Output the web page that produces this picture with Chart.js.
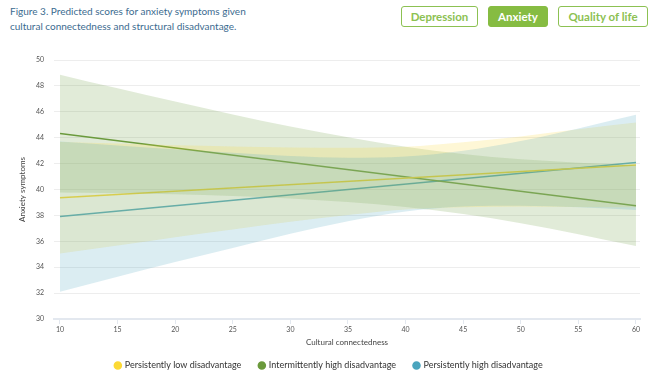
<!DOCTYPE html>
<html>
<head>
<meta charset="utf-8">
<script src="https://cdn.jsdelivr.net/npm/chart.js@4"></script>
<style>
	body { margin: 0; background: #fff; }
	#wrap { position: relative; width: 659px; height: 388px; overflow: hidden; }
	#chart { position: absolute; left: 0; top: 0; }
	.title {
		position: absolute; left: 10px; top: 4px;
		font-family: Lato, sans-serif; font-size: 10px; line-height: 15px;
		color: #3b6b8f;
	}
	.btn {
		position: absolute; top: 6px; height: 21px; box-sizing: border-box;
		border: 1.5px solid #8cc152; border-radius: 3px;
		font-family: Lato, sans-serif; font-weight: bold; font-size: 11.5px;
		color: #8cc152; background: #fff;
		display: flex; align-items: center; justify-content: center;
	}
	.btn.active { background: #86bc42; color: #fff; border-color: #86bc42; }
</style>
</head>
<body>
<div id="wrap">
	<div class="title">Figure 3. Predicted scores for anxiety symptoms given<br>cultural connectedness and structural disadvantage.</div>
	<div class="btn" style="left:401px;width:77px">Depression</div>
	<div class="btn active" style="left:488px;width:60px">Anxiety</div>
	<div class="btn" style="left:558px;width:90px">Quality of life</div>
	<canvas id="chart" width="659" height="388"></canvas>
</div>
<script>
// Series names
const seriesNames = [
	"Persistently low disadvantage",
	"Intermittently high disadvantage",
	"Persistently high disadvantage",
];

// Cultural connectedness values where the bands were read
const bandX = [10, 15, 20, 25, 30, 35, 40, 45, 50, 55, 60];

// Confidence bands (upper / lower)
const lowUpper = [43.67, 43.55, 43.42, 43.33, 43.25, 43.22, 43.3, 43.65, 44.1, 44.65, 45.17];
const lowLower = [35.05, 35.67, 36.32, 36.91, 37.51, 38.04, 38.46, 38.63, 38.68, 38.65, 38.63];
const interUpper = [48.87, 47.81, 46.79, 45.8, 44.87, 44.03, 43.31, 42.74, 42.33, 42.07, 41.87];
const interLower = [39.77, 39.71, 39.63, 39.5, 39.31, 39.03, 38.65, 38.1, 37.39, 36.55, 35.63];
const highUpper = [43.71, 43.4, 43.1, 42.83, 42.58, 42.45, 42.54, 42.99, 43.75, 44.72, 45.77];
const highLower = [32.11, 33.26, 34.4, 35.49, 36.58, 37.55, 38.3, 38.69, 38.75, 38.62, 38.41];

// Predicted lines (end points)
const lineX = [10, 60];
const lowLine = [39.36, 41.9];
const interLine = [44.32, 38.75];
const highLine = [37.91, 42.09];

// Axis ticks
const xTicks = [10, 15, 20, 25, 30, 35, 40, 45, 50, 55, 60];
const yTicks = [30, 32, 34, 36, 38, 40, 42, 44, 46, 48, 50];

const colors = {
	low: "#fcd934",
	inter: "#6b9a3c",
	high: "#4ba5be",
};
const bandColors = {
	low: "rgba(252, 217, 52, 0.2)",
	inter: "rgba(107, 154, 60, 0.2)",
	high: "rgba(75, 165, 190, 0.2)",
};

function points(xs, ys) {
	return xs.map((x, i) => ({ x: x, y: ys[i] }));
}

function bandPair(lower, upper, color) {
	const base = {
		borderWidth: 0,
		pointRadius: 0,
		pointHoverRadius: 0,
		cubicInterpolationMode: "monotone",
		backgroundColor: color,
		isBand: true,
	};
	return [
		Object.assign({}, base, { data: points(bandX, lower), fill: false }),
		Object.assign({}, base, { data: points(bandX, upper), fill: "-1" }),
	];
}

function lineSet(label, ys, color) {
	return {
		label: label,
		data: points(lineX, ys),
		borderColor: color,
		backgroundColor: color,
		borderWidth: 1.5,
		pointRadius: 0,
		fill: false,
	};
}

// bands first in the list so they are painted over the lines
const datasets = [
	...bandPair(highLower, highUpper, bandColors.high),
	...bandPair(lowLower, lowUpper, bandColors.low),
	...bandPair(interLower, interUpper, bandColors.inter),
	lineSet(seriesNames[0], lowLine, colors.low),
	lineSet(seriesNames[1], interLine, colors.inter),
	lineSet(seriesNames[2], highLine, colors.high),
];

const tickFont = { family: "Lato, sans-serif", size: 7 };

new Chart(document.getElementById("chart"), {
	type: "line",
	data: { datasets: datasets },
	options: {
		responsive: false,
		animation: false,
		events: [],
		layout: { padding: { top: 60, right: 19, bottom: 8, left: 18 } },
		plugins: {
			tooltip: { enabled: false },
			legend: {
				position: "bottom",
				labels: {
					filter: (item, data) => !data.datasets[item.datasetIndex].isBand,
					sort: (a, b) => a.datasetIndex - b.datasetIndex,
					usePointStyle: true,
					pointStyle: "circle",
					boxWidth: 5,
					boxHeight: 5,
					padding: 18,
					color: "#333",
					font: { family: "Lato, sans-serif", size: 9 },
				},
			},
		},
		scales: {
			x: {
				type: "linear",
				min: 9.48,
				max: 60.35,
				afterBuildTicks: (scale) => {
					scale.ticks = xTicks.map((v) => ({ value: v }));
				},
				afterFit: (scale) => {
					scale.height = 24;
				},
				grid: {
					drawOnChartArea: false,
					drawTicks: true,
					tickLength: 5,
					color: "#e3e8ef",
				},
				border: { display: true, color: "#e3e8ef", width: 2 },
				ticks: { color: "#555", font: tickFont, padding: 2, maxRotation: 0 },
				title: {
					display: true,
					text: "Cultural connectedness",
					color: "#444",
					font: { family: "Lato, sans-serif", size: 8 },
					padding: { top: 0, bottom: -4 },
				},
			},
			y: {
				min: 30,
				max: 50,
				afterBuildTicks: (scale) => {
					scale.ticks = yTicks.map((v) => ({ value: v }));
				},
				afterFit: (scale) => {
					scale.width = 36;
				},
				grid: { color: "#ededed", drawTicks: false },
				border: { display: false },
				ticks: { color: "#555", font: tickFont, padding: 10 },
				title: {
					display: true,
					text: "Anxiety symptoms",
					color: "#444",
					font: { family: "Lato, sans-serif", size: 8 },
					padding: { top: 0, bottom: 0 },
				},
			},
		},
	},
});
</script>
</body>
</html>
